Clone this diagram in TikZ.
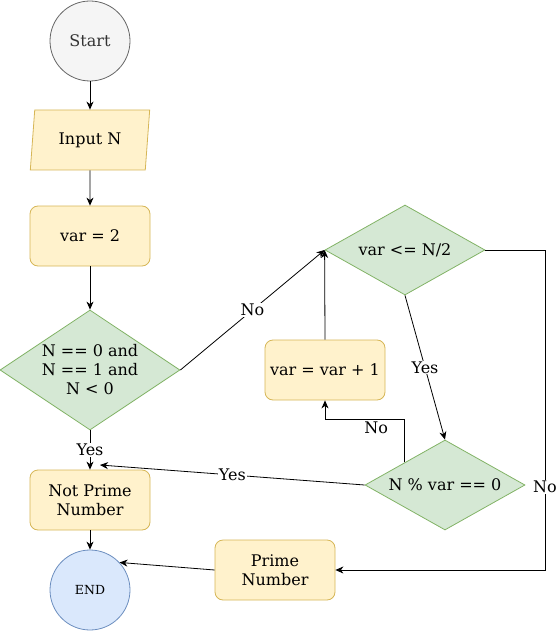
\documentclass[tikz,border=0pt]{standalone}
\usepackage{fontspec}
\setmainfont{DejaVu Serif}
\usetikzlibrary{shapes.geometric,arrows.meta}
\definecolor{ylwfill}{HTML}{FFF2CC}
\definecolor{ylwline}{HTML}{D6B656}
\definecolor{grnfill}{HTML}{D5E8D4}
\definecolor{grnline}{HTML}{82B366}
\definecolor{gryfill}{HTML}{F5F5F5}
\definecolor{gryline}{HTML}{666666}
\definecolor{grytext}{HTML}{333333}
\definecolor{blufill}{HTML}{DAE8FC}
\definecolor{bluline}{HTML}{6C8EBF}
\newcommand{\txtsize}{\fontsize{16pt}{19pt}\selectfont}

\begin{document}
\begin{tikzpicture}[x=1pt,y=-1pt,
    every node/.style={font=\txtsize,align=center,line width=0.8pt},
    procbox/.style={rectangle,rounded corners=8pt,draw=ylwline,fill=ylwfill,
      minimum width=120pt,minimum height=60pt,inner sep=0pt},
    iobox/.style={trapezium,trapezium left angle=80.5,trapezium right angle=99.5,
      trapezium stretches=true,draw=ylwline,fill=ylwfill,
      minimum width=120pt,minimum height=60pt,inner sep=0pt},
    testbox/.style={diamond,draw=grnline,fill=grnfill,inner sep=0pt},
    lbl/.style={fill=white,inner sep=1pt},
    flow/.style={line width=0.8pt,-{Stealth[length=8pt,width=7pt,inset=2.5pt]}}]
  \useasboundingbox (0,0) rectangle (558,631);

  % 节点
  \node[circle,draw=gryline,fill=gryfill,text=grytext,minimum size=80pt] (start) at (90,41) {Start};
  \node[iobox] (in) at (90,140) {Input N};
  \node[procbox] (v2) at (90,236) {var = 2};
  \node[testbox,aspect=1.5,minimum width=180pt,minimum height=120pt] (d1) at (90,370) {N == 0 and\\N == 1 and\\N < 0};
  \node[procbox] (np) at (90,500) {Not Prime\\Number};
  \node[circle,draw=bluline,fill=blufill,minimum size=80pt,font=\fontsize{12.5pt}{15pt}\selectfont] (end) at (90,590) {END};
  \node[testbox,aspect=1.78,minimum width=160pt,minimum height=90pt] (d2) at (405,250) {var <= N/2};
  \node[procbox] (vv) at (325,370) {var = var + 1};
  \node[testbox,aspect=1.78,minimum width=160pt,minimum height=90pt] (d3) at (445,485) {N \% var == 0};
  \node[procbox] (prime) at (275,570) {Prime\\Number};
  \coordinate (npin) at (100,465);
  \coordinate (rt) at (545,570);

  % 连线
  \draw[flow] (start) -- (in);
  \draw[flow] (in) -- (v2);
  \draw[flow] (v2) -- (d1);
  \draw[flow] (d1.south) -- node[lbl]{Yes} (np.north);
  \draw[flow] (d1.east) -- node[lbl]{No} (d2.west);
  \draw[flow] (vv.north) -- (d2.west);
  \draw[flow] (d2.south) -- node[lbl]{Yes} (d3.north);
  \draw[flow] (d3.north west) -- ++(0,-42.5) -| node[lbl,pos=0.18,yshift=-8pt]{No} (vv.south);
  \draw[flow] (d3.west) -- node[lbl]{Yes} (npin);
  \draw[flow] (d2.east) -| node[lbl,pos=0.87]{No} (rt) -- (prime.east);
  \draw[flow] (prime.west) -- (end.43);
  \draw[flow] (np) -- (end);
\end{tikzpicture}
\end{document}
